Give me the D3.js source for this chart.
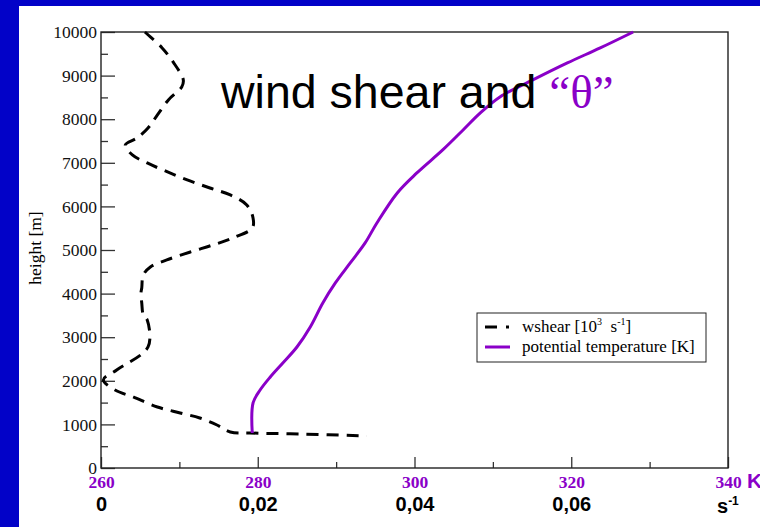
<script src="https://d3js.org/d3.v7.min.js"></script>
<style>
body{margin:0;background:#0202c8;}
svg{display:block;}
.serif{font-family:"Liberation Serif","Times New Roman",serif;}
.sans{font-family:"Liberation Sans",Arial,sans-serif;}
</style>
<div id="chart"></div>
<script>
// wind shear profile [s^-1] against height [m]
const shearHeight = [10000, 9887, 9635, 9313, 8900, 8740, 8442, 8098, 7800, 7570, 7409, 7180, 6996, 6813, 6607, 6423, 6263, 6033, 5735, 5506, 5276, 5116, 4955, 4772, 4611, 4427, 4129, 4015, 3785, 3510, 3395, 2776, 2248, 2019, 1789, 1629, 1399, 1262, 1147, 986, 826, 803, 780, 734];
const shearValue = [0.0056, 0.0063, 0.0078, 0.0092, 0.0105, 0.0103, 0.0086, 0.0072, 0.0060, 0.0046, 0.0031, 0.0040, 0.0059, 0.0082, 0.0110, 0.0139, 0.0165, 0.0186, 0.0194, 0.0193, 0.0168, 0.0143, 0.0114, 0.0084, 0.0063, 0.0054, 0.0052, 0.0051, 0.0052, 0.0054, 0.0059, 0.0060, 0.0020, 0.0003, 0.0018, 0.0041, 0.0072, 0.0101, 0.0126, 0.0148, 0.0165, 0.0190, 0.0254, 0.0339];

// potential temperature [K] against height [m]
const thetaHeight = [803, 1491, 1789, 2088, 2409, 2776, 3235, 3785, 4244, 4703, 5162, 5620, 6309, 6767, 7295, 7753, 8144, 8511, 8901, 9291, 9635, 10000];
const thetaValue = [279.3, 279.4, 280.3, 281.6, 283.2, 285.0, 286.7, 288.3, 289.9, 291.8, 293.7, 295.2, 297.8, 300.3, 303.6, 306.2, 308.4, 310.9, 315.1, 319.5, 323.7, 327.9];

const heightTicks = d3.range(0, 10001, 1000);
const heightMinor = d3.range(500, 10000, 1000);
const kTicks = [260, 280, 300, 320, 340];
const kMinor = [270, 290, 310, 330];
const shearTicks = [0, 0.02, 0.04, 0.06];

const W = 760, H = 527;
const purple = "#8a00c8";

const svg = d3.select("#chart").append("svg")
  .attr("width", W).attr("height", H);

// white slide area
svg.append("rect").attr("x", 19).attr("y", 6)
  .attr("width", W - 19).attr("height", H - 6).attr("fill", "#fff");

const xK = d3.scaleLinear().domain([260, 340]).range([101, 728]);
const xS = d3.scaleLinear().domain([0, 0.08]).range([101, 728]);
const y = d3.scaleLinear().domain([0, 10000]).range([468, 32]);

// y axis
const yAxis = svg.append("g").attr("class", "serif")
  .attr("transform", "translate(101,0)")
  .call(d3.axisLeft(y).tickValues(heightTicks).tickSize(-14).tickPadding(4).tickFormat(d3.format("d")));
yAxis.selectAll("text").attr("font-size", 17.5).attr("fill", "#111");
svg.append("g").attr("transform", "translate(101,0)")
  .call(d3.axisLeft(y).tickValues(heightMinor).tickSize(-7).tickFormat(""));

// K axis (purple labels)
const kAxis = svg.append("g").attr("class", "serif")
  .attr("transform", "translate(0,468)")
  .call(d3.axisBottom(xK).tickValues(kTicks).tickSize(-11).tickPadding(8));
kAxis.selectAll("text").attr("font-size", 17.5).attr("font-weight", "bold").attr("fill", purple);
svg.append("g").attr("transform", "translate(0,468)")
  .call(d3.axisBottom(xK).tickValues(kMinor).tickSize(-6).tickFormat(""));

// s^-1 labels underneath
const sAxis = svg.append("g").attr("class", "sans")
  .attr("transform", "translate(0,497)")
  .call(d3.axisBottom(xS).tickValues(shearTicks).tickSize(0).tickPadding(0)
    .tickFormat(d => d === 0 ? "0" : d3.format(".2f")(d).replace(".", ",")));
sAxis.selectAll("text").attr("font-size", 20).attr("font-weight", "bold").attr("fill", "#000");

svg.selectAll(".domain").remove();
svg.selectAll(".tick line").attr("stroke", "#333").attr("stroke-width", 1.3);

// frame
svg.append("rect").attr("x", 101).attr("y", 32).attr("width", 627).attr("height", 436)
  .attr("fill", "none").attr("stroke", "#222").attr("stroke-width", 1.4);

// unit labels
svg.append("text").attr("class", "sans").attr("x", 747).attr("y", 488)
  .attr("font-size", 21).attr("font-weight", "bold").attr("fill", purple).text("K");
const sLab = svg.append("text").attr("class", "sans").attr("x", 717).attr("y", 513)
  .attr("font-size", 20).attr("font-weight", "bold");
sLab.append("tspan").text("s");
sLab.append("tspan").attr("dy", -8).attr("font-size", 12).text("-1");

svg.append("text").attr("class", "serif")
  .attr("transform", "translate(41,248) rotate(-90)")
  .attr("text-anchor", "middle").attr("font-size", 17.5).text("height [m]");

// curves
const shear = shearHeight.map((h, i) => ({h, v: shearValue[i]}));
const theta = thetaHeight.map((h, i) => ({h, v: thetaValue[i]}));

svg.append("path").datum(shear)
  .attr("fill", "none").attr("stroke", "#000").attr("stroke-width", 3)
  .attr("stroke-dasharray", "12,8")
  .attr("d", d3.line().x(d => xS(d.v)).y(d => y(d.h)).curve(d3.curveCatmullRom));

svg.append("path").datum(theta)
  .attr("fill", "none").attr("stroke", purple).attr("stroke-width", 3)
  .attr("d", d3.line().x(d => xK(d.v)).y(d => y(d.h)).curve(d3.curveCatmullRom));

// title
const title = svg.append("text").attr("x", 221).attr("y", 108);
title.append("tspan").attr("class", "sans").attr("font-size", 46.5).attr("fill", "#000").text("wind shear and ");
title.append("tspan").attr("class", "serif").attr("font-size", 47).attr("fill", purple).text("\u201C\u03B8\u201D");

// legend
const lg = svg.append("g").attr("class", "serif");
lg.append("rect").attr("x", 477).attr("y", 313).attr("width", 229).attr("height", 49)
  .attr("fill", "#fff").attr("stroke", "#222").attr("stroke-width", 1);
lg.append("line").attr("x1", 485).attr("x2", 497).attr("y1", 327).attr("y2", 327)
  .attr("stroke", "#000").attr("stroke-width", 3);
lg.append("line").attr("x1", 506).attr("x2", 509).attr("y1", 327).attr("y2", 327)
  .attr("stroke", "#000").attr("stroke-width", 3);
lg.append("line").attr("x1", 485).attr("x2", 510).attr("y1", 347).attr("y2", 347)
  .attr("stroke", purple).attr("stroke-width", 3);
const l1 = lg.append("text").attr("x", 522).attr("y", 332).attr("font-size", 17);
l1.append("tspan").text("wshear [10");
l1.append("tspan").attr("dy", -7).attr("font-size", 10).text("3");
l1.append("tspan").attr("dy", 7).text("\u00A0 s");
l1.append("tspan").attr("dy", -7).attr("font-size", 10).text("-1");
l1.append("tspan").attr("dy", 7).text("]");
lg.append("text").attr("x", 522).attr("y", 352).attr("font-size", 17).text("potential temperature [K]");
</script>
